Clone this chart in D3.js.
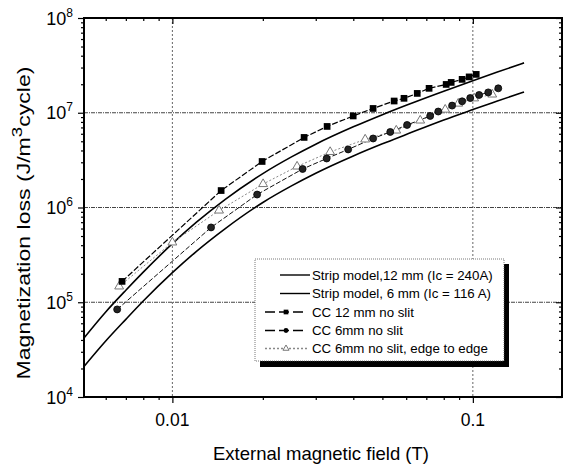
<!DOCTYPE html>
<html>
<head>
<meta charset="utf-8">
<title>Magnetization loss</title>
<script src="https://d3js.org/d3.v7.min.js"></script>
<style>
  body { margin: 0; background: #fff; }
  text { font-family: "Liberation Sans", Arial, sans-serif; fill: #000; }
</style>
</head>
<body>
<div id="chart"></div>
<script>
// strip model curves
let stripField = [0.00508, 0.006, 0.007, 0.008, 0.01, 0.012, 0.015, 0.02, 0.025, 0.03, 0.04, 0.05, 0.06, 0.08, 0.1, 0.12, 0.148]
let strip12 = [4.2e4, 7.9e4, 1.34e5, 2.08e5, 4.15e5, 6.95e5, 1.22e6, 2.28e6, 3.44e6, 4.66e6, 7.1e6, 9.55e6, 1.2e7, 1.69e7, 2.18e7, 2.67e7, 3.36e7]
let strip6 = [2.1e4, 3.9e4, 6.6e4, 1.03e5, 2.05e5, 3.43e5, 6.0e5, 1.13e6, 1.70e6, 2.30e6, 3.5e6, 4.7e6, 5.9e6, 8.4e6, 1.08e7, 1.32e7, 1.66e7]

// measured points
let cc12Field = [0.0068, 0.01453, 0.01989, 0.02744, 0.03273, 0.03997, 0.04656, 0.0547, 0.059, 0.0653, 0.0715, 0.0815, 0.0847, 0.0921, 0.0972, 0.1026]
let cc12Loss = [1.66e5, 1.51e6, 3.06e6, 5.49e6, 7.17e6, 9.25e6, 1.11e7, 1.33e7, 1.42e7, 1.6e7, 1.81e7, 1.99e7, 2.09e7, 2.25e7, 2.39e7, 2.54e7]

let cc6Field = [0.00655, 0.01345, 0.01914, 0.02713, 0.03262, 0.03846, 0.04657, 0.0531, 0.0604, 0.0721, 0.0767, 0.0853, 0.0921, 0.098, 0.1049, 0.1125, 0.1215]
let cc6Loss = [8.4e4, 6.16e5, 1.37e6, 2.55e6, 3.29e6, 4.1e6, 5.35e6, 6.27e6, 7.43e6, 9.25e6, 1.03e7, 1.19e7, 1.32e7, 1.43e7, 1.54e7, 1.64e7, 1.81e7]

let edgeField = [0.00665, 0.01, 0.0143, 0.02004, 0.026, 0.0335, 0.04381, 0.0556, 0.0668, 0.0809, 0.0894, 0.101, 0.116]
let edgeLoss = [1.47e5, 4.28e5, 9.3e5, 1.77e6, 2.71e6, 3.86e6, 5.23e6, 6.5e6, 8.29e6, 1.08e7, 1.25e7, 1.42e7, 1.56e7]

let xTicks = [0.01, 0.1]
let xTickLabels = ["0.01", "0.1"]
let xMinor = [0.006, 0.007, 0.008, 0.009, 0.02, 0.03, 0.04, 0.05, 0.06, 0.07, 0.08, 0.09]
let yTicks = [1e4, 1e5, 1e6, 1e7, 1e8]
let yTickExp = ["4", "5", "6", "7", "8"]
let yMinor = []
;[1e4, 1e5, 1e6, 1e7].forEach(function(d) {
  for (let k = 2; k < 10; k++) yMinor.push(d * k)
})
let yGrid = [1e5, 1e6, 1e7]

let legendLabels = ["Strip model,12 mm (Ic = 240A)", "Strip model, 6 mm (Ic = 116 A)",
  "CC 12 mm no slit", "CC 6mm no slit", "CC 6mm no slit, edge to edge"]

let width = 563, height = 466
let margin = {top: 18, right: 1, bottom: 69, left: 84}
let w = width - margin.left - margin.right
let h = height - margin.top - margin.bottom

let root = d3.select("#chart").append("svg")
  .attr("width", width)
  .attr("height", height)

let svg = root.append("g")
  .attr("transform", "translate(" + margin.left + "," + margin.top + ")")

let x = d3.scaleLog().domain([0.00508, 0.198]).range([0, w])
let y = d3.scaleLog().domain([1e4, 1e8]).range([h, 0])

svg.append("clipPath").attr("id", "clip")
  .append("rect").attr("width", w).attr("height", h)

// grid
let gridDash = "4,1,1,1"
svg.selectAll(".vgrid").data(xTicks).enter().append("line")
  .attr("x1", d => x(d)).attr("x2", d => x(d))
  .attr("y1", 0).attr("y2", h)
  .attr("stroke", "#666").attr("stroke-dasharray", "2,2")
svg.selectAll(".hgrid").data(yGrid).enter().append("line")
  .attr("x1", 0).attr("x2", w)
  .attr("y1", d => y(d)).attr("y2", d => y(d))
  .attr("stroke", "#444").attr("stroke-dasharray", gridDash)

let plot = svg.append("g").attr("clip-path", "url(#clip)")

let line = d3.line()
  .x(d => x(d[0]))
  .y(d => y(d[1]))
  .curve(d3.curveMonotoneX)

function pairs(xs, ys) { return xs.map((v, i) => [v, ys[i]]) }

plot.append("path").datum(pairs(stripField, strip12))
  .attr("d", line).attr("fill", "none").attr("stroke", "#000").attr("stroke-width", 1.6)
plot.append("path").datum(pairs(stripField, strip6))
  .attr("d", line).attr("fill", "none").attr("stroke", "#000").attr("stroke-width", 1.6)

let seg = d3.line().x(d => x(d[0])).y(d => y(d[1]))

plot.append("path").datum(pairs(edgeField, edgeLoss))
  .attr("d", seg).attr("fill", "none").attr("stroke", "#888").attr("stroke-width", 1)
  .attr("stroke-dasharray", "2,2")
plot.append("path").datum(pairs(cc6Field, cc6Loss))
  .attr("d", seg).attr("fill", "none").attr("stroke", "#111").attr("stroke-width", 1)
  .attr("stroke-dasharray", "5,2")
plot.append("path").datum(pairs(cc12Field, cc12Loss))
  .attr("d", seg).attr("fill", "none").attr("stroke", "#000").attr("stroke-width", 1.2)
  .attr("stroke-dasharray", "6,2")

let sq = d3.symbol().type(d3.symbolSquare).size(45)
let ci = d3.symbol().type(d3.symbolCircle).size(38)
let tri = d3.symbol().type(d3.symbolTriangle).size(34)

plot.selectAll(".tri").data(pairs(edgeField, edgeLoss)).enter().append("path")
  .attr("d", tri)
  .attr("transform", d => "translate(" + x(d[0]) + "," + y(d[1]) + ")")
  .attr("fill", "#fff").attr("stroke", "#777").attr("stroke-width", 1)
plot.selectAll(".ci").data(pairs(cc6Field, cc6Loss)).enter().append("path")
  .attr("d", ci)
  .attr("transform", d => "translate(" + x(d[0]) + "," + y(d[1]) + ")")
  .attr("fill", "#222").attr("stroke", "#000").attr("stroke-width", 0.8)
plot.selectAll(".sq").data(pairs(cc12Field, cc12Loss)).enter().append("path")
  .attr("d", sq)
  .attr("transform", d => "translate(" + x(d[0]) + "," + y(d[1]) + ")")
  .attr("fill", "#000")

// axes
function styleAxis(g) {
  g.select(".domain").remove()
  g.selectAll("line").attr("stroke", "#000").attr("stroke-width", 1.2)
}
svg.append("g").attr("transform", "translate(0," + h + ")")
  .call(d3.axisBottom(x).tickValues(xTicks).tickSize(6).tickFormat("")).call(styleAxis)
svg.append("g").attr("transform", "translate(0," + h + ")")
  .call(d3.axisBottom(x).tickValues(xMinor).tickSize(3).tickFormat("")).call(styleAxis)
svg.append("g")
  .call(d3.axisTop(x).tickValues(xTicks).tickSize(-6).tickFormat("")).call(styleAxis)
svg.append("g")
  .call(d3.axisTop(x).tickValues(xMinor).tickSize(-3).tickFormat("")).call(styleAxis)
svg.append("g")
  .call(d3.axisLeft(y).tickValues(yTicks).tickSize(6).tickFormat("")).call(styleAxis)
svg.append("g")
  .call(d3.axisLeft(y).tickValues(yMinor).tickSize(3).tickFormat("")).call(styleAxis)
svg.append("g").attr("transform", "translate(" + w + ",0)")
  .call(d3.axisRight(y).tickValues(yTicks).tickSize(-6).tickFormat("")).call(styleAxis)
svg.append("g").attr("transform", "translate(" + w + ",0)")
  .call(d3.axisRight(y).tickValues(yMinor).tickSize(-3).tickFormat("")).call(styleAxis)

svg.append("rect")
  .attr("x", 0).attr("y", 0).attr("width", w).attr("height", h)
  .attr("fill", "none").attr("stroke", "#000").attr("stroke-width", 2)

// tick labels
svg.selectAll(".xlab").data(xTicks).enter().append("text")
  .attr("x", d => x(d)).attr("y", h + 29)
  .attr("text-anchor", "middle").attr("font-size", "17.5px")
  .text((d, i) => xTickLabels[i])

let ylab = svg.selectAll(".ylab").data(yTicks).enter().append("text")
  .attr("x", -11).attr("y", d => y(d) + 6.5)
  .attr("text-anchor", "end").attr("font-size", "18px")
ylab.append("tspan").text("10")
ylab.append("tspan").attr("dy", -8).attr("font-size", "12px").text((d, i) => yTickExp[i])

// axis titles
svg.append("text")
  .attr("x", 321 - margin.left).attr("y", 460 - margin.top)
  .attr("text-anchor", "middle").attr("font-size", "18.5px")
  .text("External magnetic field (T)")

let yt = root.append("text")
  .attr("text-anchor", "middle").attr("font-size", "18.5px")
yt.append("tspan").text("Magnetization loss (J/m")
yt.append("tspan").attr("dy", -8).attr("font-size", "15px").text("3")
yt.append("tspan").attr("dy", 8).text("cycle)")
let ytLen = yt.node().getComputedTextLength()
let sx = 313 / ytLen
yt.attr("transform", "translate(30,223) rotate(-90) scale(" + sx + ",1)")

// legend
let lg = root.append("g")
lg.append("rect").attr("x", 260).attr("y", 264).attr("width", 249).attr("height", 103).attr("fill", "#000")
lg.append("rect").attr("x", 255).attr("y", 259).attr("width", 249).attr("height", 102)
  .attr("fill", "#fff").attr("stroke", "#555").attr("stroke-width", 0.8).attr("stroke-dasharray", "1,1")

let rows = [275, 293.5, 312, 330.5, 348.5]
let rowStyle = [
  {x1: 280, x2: 310, stroke: "#000", dash: null, sym: null},
  {x1: 280, x2: 310, stroke: "#000", dash: null, sym: null},
  {x1: 265, x2: 307, stroke: "#000", dash: "10,4", sym: "sq"},
  {x1: 265, x2: 307, stroke: "#000", dash: "10,4", sym: "ci"},
  {x1: 265, x2: 307, stroke: "#888", dash: "2,2", sym: "tri"}
]
legendLabels.forEach(function(label, i) {
  let r = rowStyle[i], yy = rows[i]
  lg.append("line").attr("x1", r.x1).attr("x2", r.x2).attr("y1", yy).attr("y2", yy)
    .attr("stroke", r.stroke).attr("stroke-width", 1.4).attr("stroke-dasharray", r.dash)
  if (r.sym == "sq") lg.append("path").attr("d", d3.symbol().type(d3.symbolSquare).size(22))
    .attr("transform", "translate(286," + yy + ")").attr("fill", "#000")
  if (r.sym == "ci") lg.append("path").attr("d", d3.symbol().type(d3.symbolCircle).size(18))
    .attr("transform", "translate(286," + yy + ")").attr("fill", "#000")
  if (r.sym == "tri") lg.append("path").attr("d", d3.symbol().type(d3.symbolTriangle).size(16))
    .attr("transform", "translate(286," + yy + ")").attr("fill", "#fff").attr("stroke", "#777")
  lg.append("text").attr("x", 312).attr("y", yy + 4.8)
    .attr("font-size", "13.3px").text(label)
})
</script>
</body>
</html>
